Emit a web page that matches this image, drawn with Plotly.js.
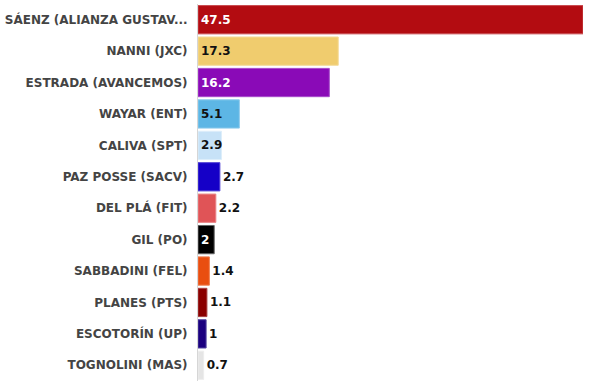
<!DOCTYPE html>
<html>
<head>
<meta charset="utf-8">
<script src="https://cdn.plot.ly/plotly-3.0.1.min.js"></script>
<style>html,body{margin:0;padding:0;background:#fff;}#chart{width:592px;height:383px;}</style>
</head>
<body>
<div id="chart"></div>
<script>
const candidates = ["SÁENZ (ALIANZA GUSTAV...", "NANNI (JXC)", "ESTRADA (AVANCEMOS)", "WAYAR (ENT)", "CALIVA (SPT)", "PAZ POSSE (SACV)", "DEL PLÁ (FIT)", "GIL (PO)", "SABBADINI (FEL)", "PLANES (PTS)", "ESCOTORÍN (UP)", "TOGNOLINI (MAS)"];
const votes = [47.5, 17.3, 16.2, 5.1, 2.9, 2.7, 2.2, 2, 1.4, 1.1, 1, 0.7];
const barColors = ["#B30C11", "#F0CC6E", "#8A0AB7", "#5DB6E5", "#C7E2F7", "#1500C7", "#E05457", "#000000", "#E94E10", "#8A0000", "#1B007F", "#E5E5E5"];
const borderColors = ["#C94A4E", "#F4DA98", "#A74BCB", "#8ECBEC", "#DDEEFA", "#5546D5", "#E98487", "#666666", "#EF7D4F", "#A84444", "#5548A0", "#EEEEEE"];
const labelPos = ["inside", "inside", "inside", "inside", "inside", "outside", "outside", "inside", "outside", "outside", "outside", "outside"];
const labelColors = ["#ffffff", "#111111", "#ffffff", "#111111", "#111111", "#111111", "#111111", "#ffffff", "#111111", "#111111", "#111111", "#111111"];

const trace = {
  type: "bar",
  orientation: "h",
  y: candidates,
  x: votes,
  text: votes.map(v => String(v)),
  textposition: labelPos,
  insidetextanchor: "start",
  textangle: 0,
  constraintext: "none",
  cliponaxis: false,
  textfont: {family: "DejaVu Sans, sans-serif", size: 12, weight: 700, color: labelColors},
  marker: {color: barColors, line: {color: borderColors, width: 1}},
  hoverinfo: "none"
};

const layout = {
  width: 592, height: 383,
  margin: {l: 198, r: 9, t: 4, b: 2},
  paper_bgcolor: "#ffffff",
  plot_bgcolor: "#ffffff",
  bargap: 0.1,
  showlegend: false,
  xaxis: {range: [0, 47.5], showgrid: false, zeroline: false, showticklabels: false, showline: false, fixedrange: true},
  yaxis: {autorange: "reversed", showgrid: false, zeroline: false, showline: true, linecolor: "#d6d6d6", linewidth: 1,
          ticks: "", ticklen: 0, ticklabelstandoff: 7,
          tickfont: {family: "DejaVu Sans, sans-serif", size: 12, weight: 700, color: "#444444"}, automargin: false, fixedrange: true}
};

Plotly.newPlot("chart", [trace], layout, {displayModeBar: false, staticPlot: true});
</script>
</body>
</html>
